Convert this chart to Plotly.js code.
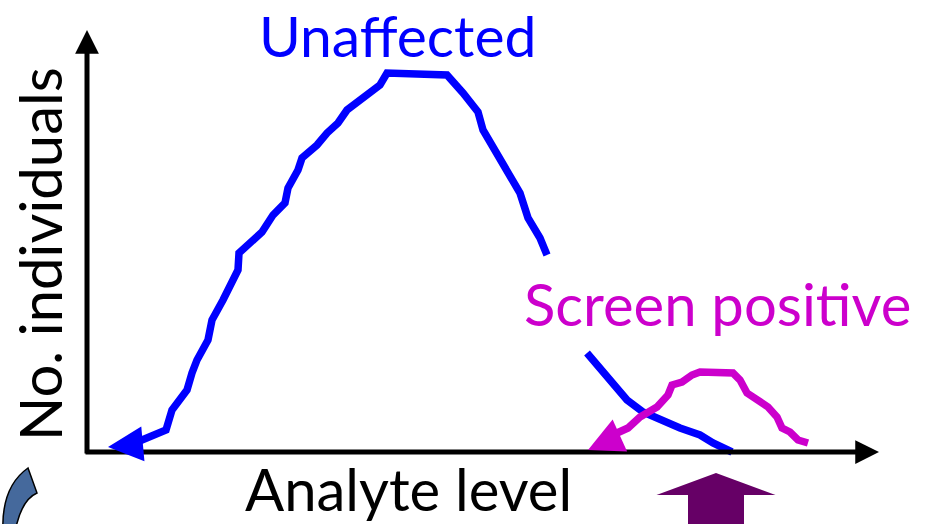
<!DOCTYPE html>
<html>
<head>
<meta charset="utf-8">
<script src="https://cdn.plot.ly/plotly-3.0.1.min.js"></script>
<style>html,body{margin:0;padding:0;background:#fff;}#chart{width:926px;height:524px;}</style>
</head>
<body>
<div id="chart"></div>
<script>
// Analyte level (x) and number of individuals (y), arbitrary units; origin at axis corner.
// First point of each curve is the arrow tip.
var unaffectedX = [21,43,60,79,85,91,100,105,110,121,125,136,145,151,152,163,175,186,198,201,211,215,230,240,251,260,280,293,300,360,376,391,396,410,420,433,441,453,460,null,500,516,526,540,556,573,593,613,626,645];
var unaffectedY = [5,7,14,22,42,49,62,79,92,112,132,152,169,182,199,209,220,237,249,264,282,294,307,319,329,342,357,367,379,377,359,340,322,297,279,259,234,214,197,null,99,79,67,52,40,32,24,17,9,0];
var screenPosX = [501,523,530,541,553,570,581,585,595,605,613,646,653,660,670,681,690,695,703,711,721];
var screenPosY = [2,12,19,24,35,45,57,67,70,77,80,79,72,59,52,45,35,24,20,12,9];
var cutoffLevel = [629];
var axisEnds = {xMax: 792, yMax: 422};
var labels = {x: "Analyte level", y: "No. individuals", a: "Unaffected", b: "Screen positive"};

var FONT = "Lato, 'Open Sans', sans-serif";
var BLUE = "#0000ff", MAG = "#cc00cc", PURPLE = "#660066";

var traces = [
  {x: unaffectedX.slice(1), y: unaffectedY.slice(1), mode: "lines", connectgaps: false,
   line: {color: BLUE, width: 7.5}, hoverinfo: "skip"},
  {x: screenPosX.slice(1), y: screenPosY.slice(1), mode: "lines",
   line: {color: MAG, width: 7.5}, hoverinfo: "skip"}
];

function arrowAnn(x, y, ax, ay, color, w, size) {
  return {x: x, y: y, ax: ax, ay: ay, xref: "x", yref: "y", axref: "x", ayref: "y",
          text: "", showarrow: true, arrowhead: 2, arrowwidth: w, arrowsize: size, arrowcolor: color};
}

var c = cutoffLevel[0];
var purplePath = "M " + c + ",-21 L " + (c + 59.5) + ",-43 L " + (c + 28) + ",-43 L " + (c + 28) + ",-90 L " +
  (c - 28) + ",-90 L " + (c - 28) + ",-43 L " + (c - 59.5) + ",-43 Z";

var layout = {
  width: 926, height: 524,
  margin: {l: 0, r: 0, t: 0, b: 0},
  paper_bgcolor: "#ffffff", plot_bgcolor: "#ffffff",
  showlegend: false,
  xaxis: {range: [-87, 839], visible: false, fixedrange: true},
  yaxis: {range: [-72, 452], visible: false, fixedrange: true},
  shapes: [
    {type: "path", xref: "x", yref: "y", path: purplePath, fillcolor: PURPLE, line: {width: 0}},
    {type: "path", xref: "x", yref: "y",
     path: "M -59,-16 L -50,-41 Q -66,-48 -72,-80 L -84,-80 Q -86,-35 -59,-16 Z",
     fillcolor: "#45699c", line: {color: "#000000", width: 1.5}}
  ],
  annotations: [
    arrowAnn(0, axisEnds.yMax, 0, -3, "#000000", 5, 0.95),
    arrowAnn(axisEnds.xMax, 0, -3, 0, "#000000", 5, 0.95),
    arrowAnn(unaffectedX[0], unaffectedY[0], unaffectedX[1], unaffectedY[1], BLUE, 7, 1.0),
    arrowAnn(screenPosX[0], screenPosY[0], screenPosX[1], screenPosY[1], MAG, 7, 1.0),
    {x: 310, y: 452, xref: "x", yref: "y", text: labels.a, showarrow: false, borderpad: 0,
     font: {family: FONT, size: 57, color: BLUE}, xanchor: "center", yanchor: "top"},
    {x: 630, y: 149, xref: "x", yref: "y", text: labels.b, showarrow: false,
     font: {family: FONT, size: 58, color: MAG}, xanchor: "center", yanchor: "middle"},
    {x: 321, y: -36, xref: "x", yref: "y", text: labels.x, showarrow: false,
     font: {family: FONT, size: 58, color: "#000000"}, xanchor: "center", yanchor: "middle"},
    {x: -48, y: 198, xref: "x", yref: "y", text: labels.y, showarrow: false, textangle: -90,
     font: {family: FONT, size: 58, color: "#000000"}, xanchor: "center", yanchor: "middle"}
  ]
};

Plotly.newPlot("chart", traces, layout, {staticPlot: true, displayModeBar: false});
</script>
</body>
</html>
